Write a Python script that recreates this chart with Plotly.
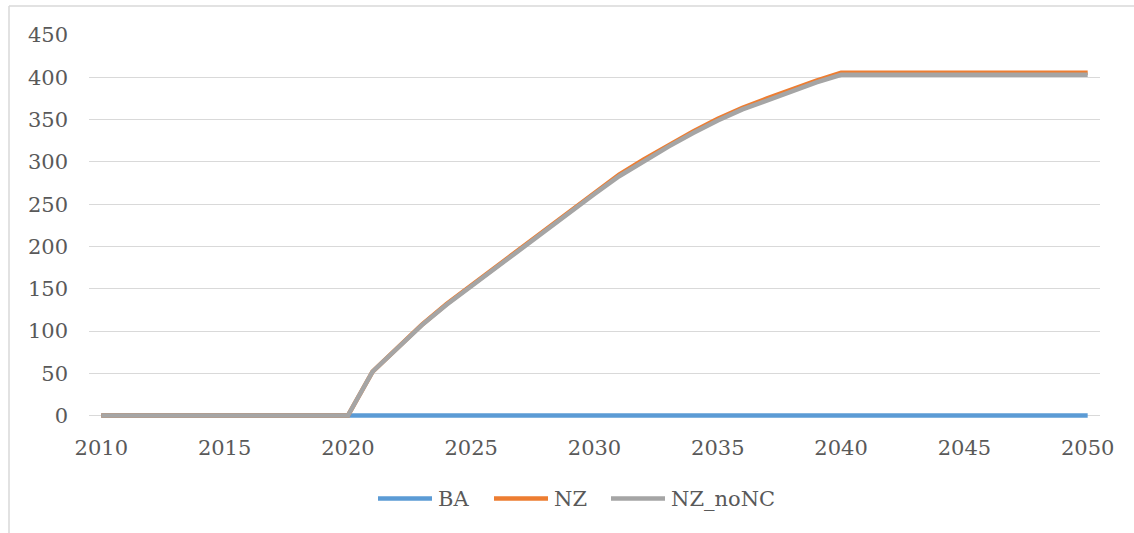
import plotly.graph_objects as go

# Annual capacity series, 2010-2050
years = list(range(2010, 2051))

ba = [0, 0, 0, 0, 0, 0, 0, 0, 0, 0,
      0, 0, 0, 0, 0, 0, 0, 0, 0, 0,
      0, 0, 0, 0, 0, 0, 0, 0, 0, 0,
      0, 0, 0, 0, 0, 0, 0, 0, 0, 0,
      0]

nz = [0, 0, 0, 0, 0, 0, 0, 0, 0, 0,
      0, 52, 80.5, 107.5, 132, 154, 176, 197, 219, 241.5,
      263.5, 285, 303, 320, 336, 351, 364, 375, 386, 396,
      405.5, 405.5, 405.5, 405.5, 405.5, 405.5, 405.5, 405.5, 405.5, 405.5,
      405.5]

nz_nonc = [0, 0, 0, 0, 0, 0, 0, 0, 0, 0,
           0, 52, 80, 107, 131, 153, 175, 196, 218, 240,
           262, 283, 301, 318, 334, 349, 362, 373, 384, 394,
           403, 403, 403, 403, 403, 403, 403, 403, 403, 403,
           403]

series_names = ["BA", "NZ", "NZ_noNC"]
series_colors = ["#5B9BD5", "#ED7D31", "#A5A5A5"]
series_values = [ba, nz, nz_nonc]

y_ticks = list(range(0, 451, 50))
x_ticks = list(range(2010, 2051, 5))

W, H = 1134, 533
Y_MIN, Y_MAX = -4, 450
ZERO_PX, TOP_PX = 416, 35
PX_PER_UNIT = (ZERO_PX - TOP_PX) / Y_MAX
ML, MR, MT = 89, 34, TOP_PX
MB = H - (ZERO_PX - Y_MIN * PX_PER_UNIT)
PW, PH = W - ML - MR, H - MT - MB
FONT = "DejaVu Serif"
TEXT = "#595959"
GRID = "#D9D9D9"


def fx(px):
    return (px - ML) / PW


def fy(py):
    return (H - MB - py) / PH


fig = go.Figure()
for name, color, vals in zip(series_names, series_colors, series_values):
    fig.add_trace(go.Scatter(
        x=years, y=vals, name=name, mode="lines",
        line=dict(color=color, width=4.5),
        showlegend=False,
    ))

shapes = []
annotations = []

# outer chart frame (left and top edges)
shapes.append(dict(type="line", xref="paper", yref="paper",
                   x0=fx(9), x1=fx(W + 5), y0=fy(6), y1=fy(6),
                   line=dict(color=GRID, width=1.5)))
shapes.append(dict(type="line", xref="paper", yref="paper",
                   x0=fx(9), x1=fx(9), y0=fy(6), y1=fy(H + 5),
                   line=dict(color=GRID, width=1.5)))

# legend row
leg_y = 499
leg_starts = [378, 494, 611]
for name, color, x0 in zip(series_names, series_colors, leg_starts):
    shapes.append(dict(type="line", xref="paper", yref="paper",
                       x0=fx(x0), x1=fx(x0 + 54), y0=fy(leg_y), y1=fy(leg_y),
                       line=dict(color=color, width=4.5)))
    annotations.append(dict(xref="paper", yref="paper", x=fx(x0 + 58), y=fy(leg_y),
                            text=name, showarrow=False, xanchor="left", yanchor="middle",
                            font=dict(family=FONT, size=21, color=TEXT)))

fig.update_layout(
    width=W, height=H,
    margin=dict(l=ML, r=MR, t=MT, b=MB),
    paper_bgcolor="white", plot_bgcolor="white",
    font=dict(family=FONT, size=21, color=TEXT),
    shapes=shapes, annotations=annotations,
    showlegend=False,
    xaxis=dict(
        range=[2009.5, 2050.5], tickmode="array", tickvals=x_ticks,
        showgrid=False, zeroline=False, showline=False,
        ticks="", ticklabelstandoff=14,
        tickfont=dict(family=FONT, size=21, color=TEXT),
    ),
    yaxis=dict(
        range=[Y_MIN, Y_MAX], tickmode="array", tickvals=y_ticks,
        showgrid=True, gridcolor=GRID, gridwidth=1.3,
        zeroline=True, zerolinecolor=GRID, zerolinewidth=1.3,
        showline=False, ticks="", ticklabelstandoff=20,
        tickfont=dict(family=FONT, size=21, color=TEXT),
    ),
)

fig.write_html("out.html")
